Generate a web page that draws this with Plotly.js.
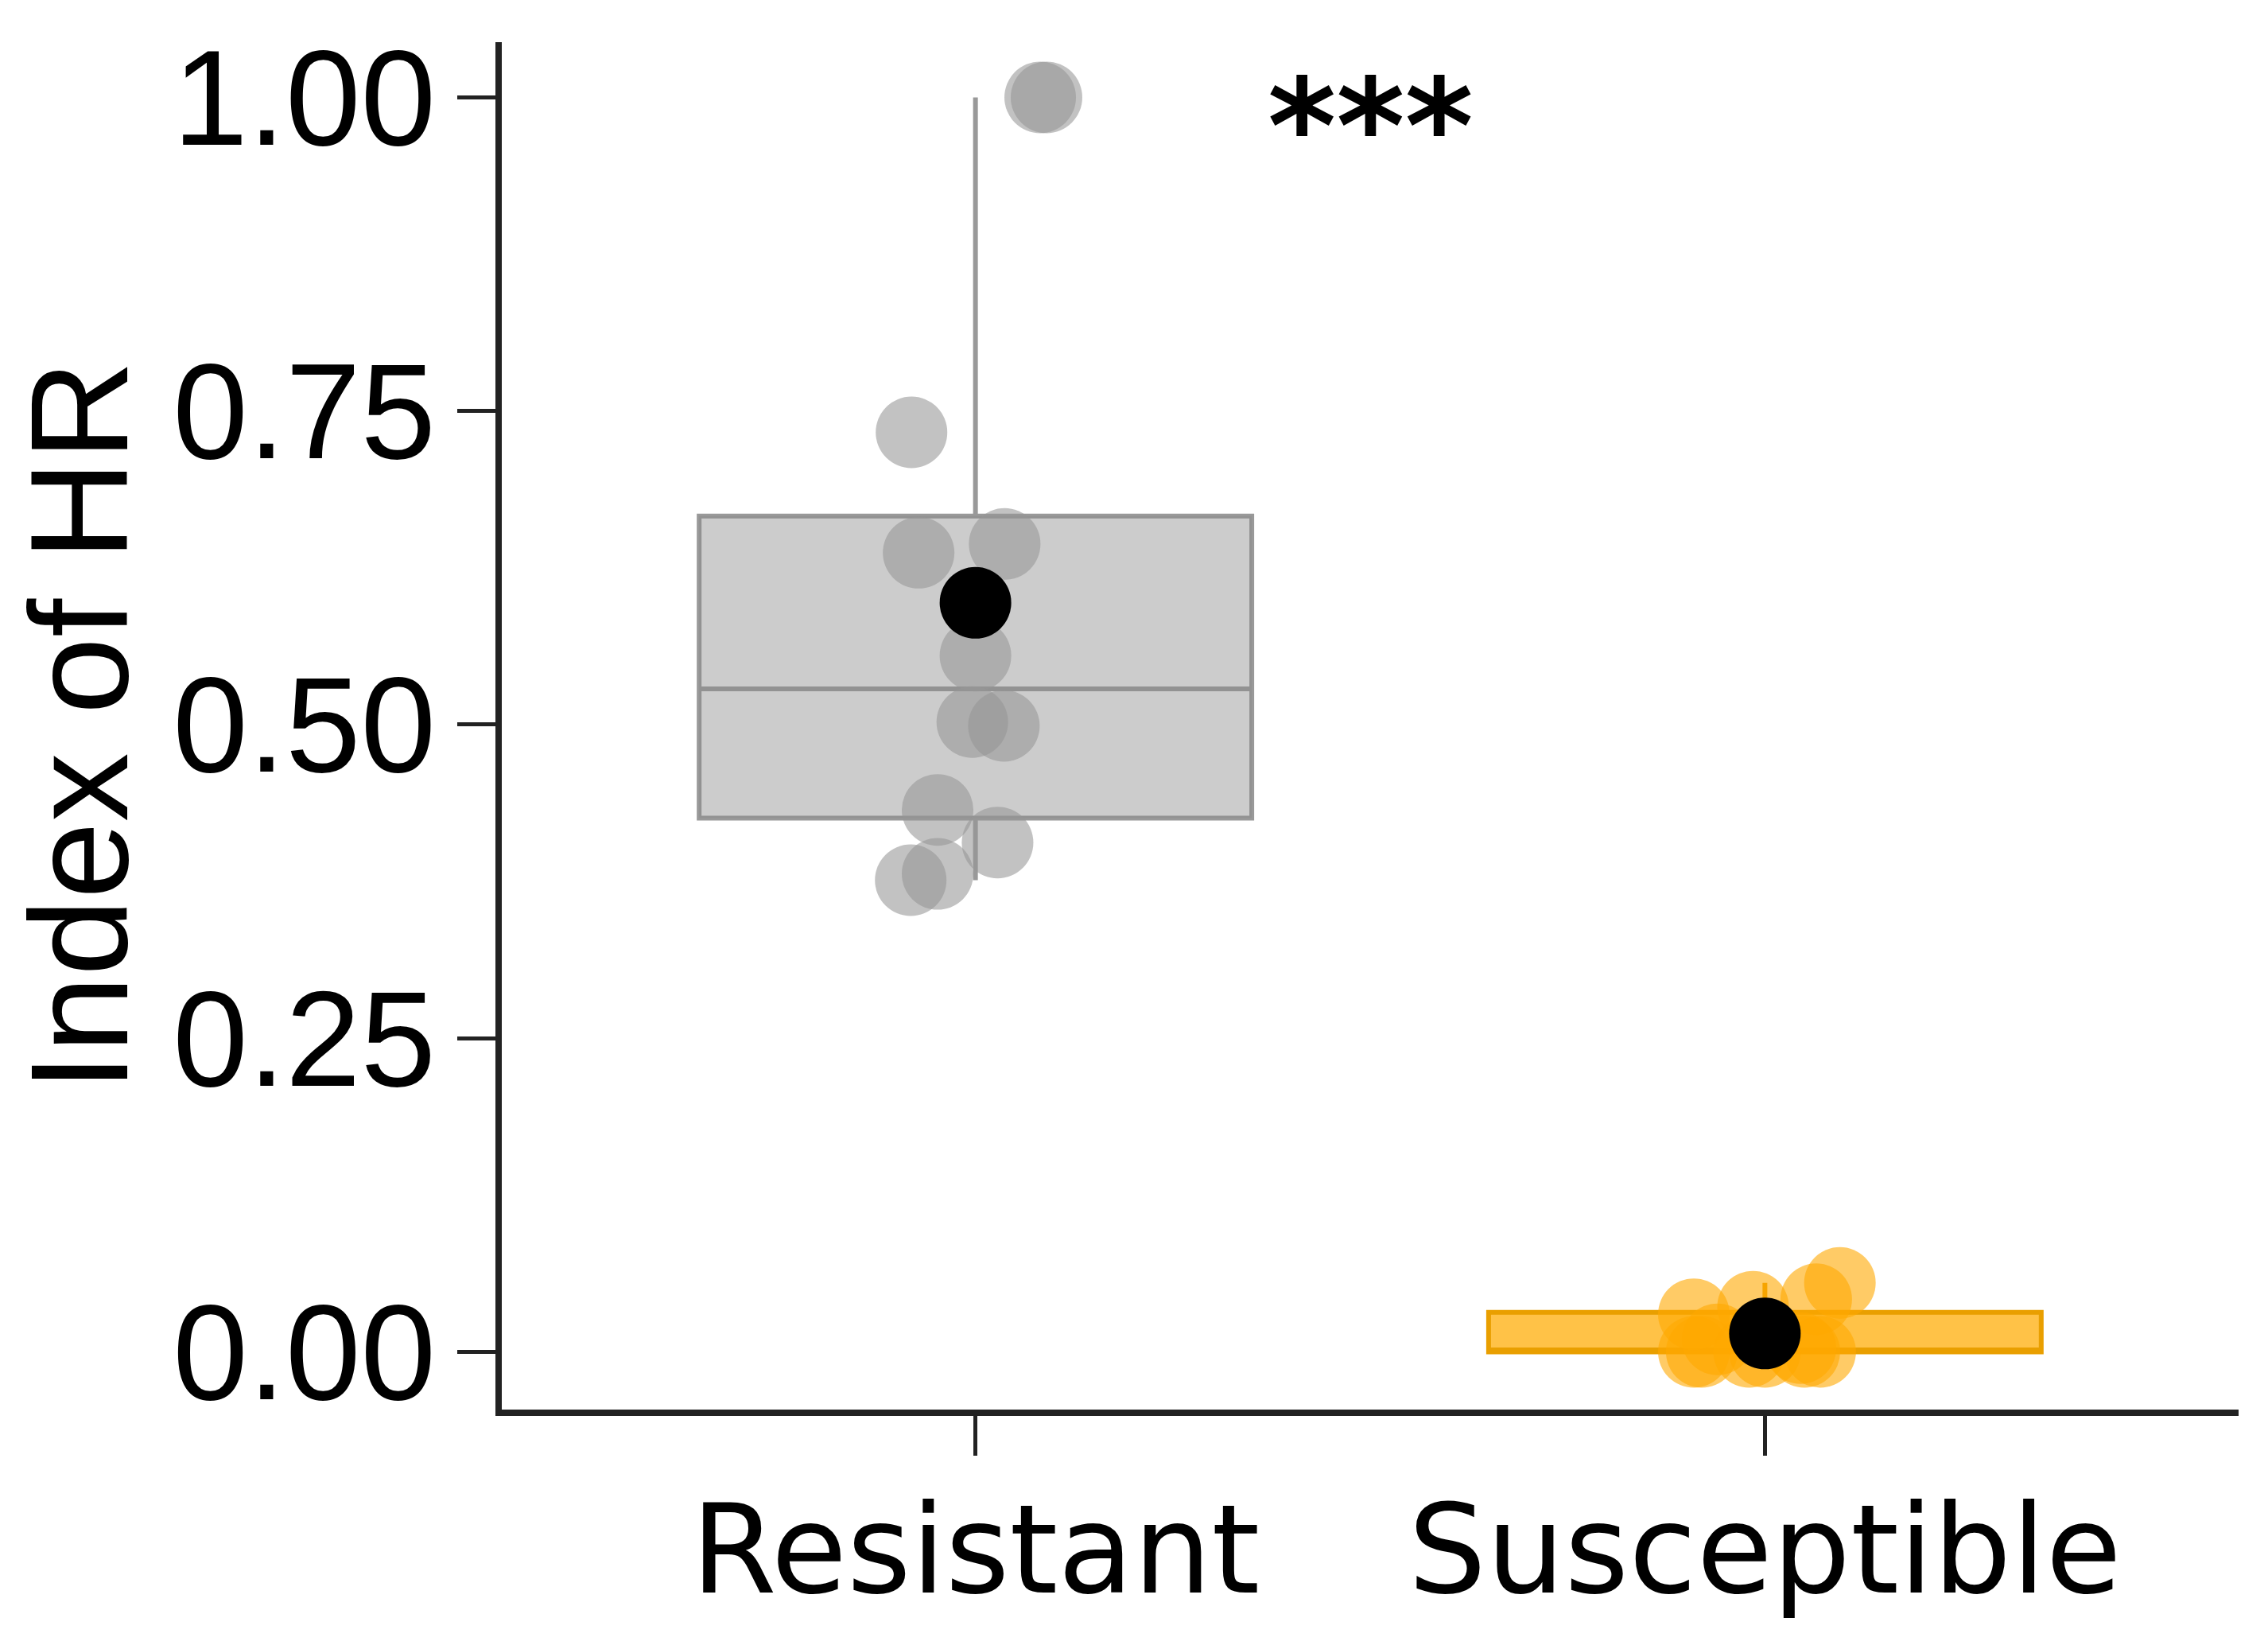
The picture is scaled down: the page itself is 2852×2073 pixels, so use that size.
<!DOCTYPE html>
<html><head><meta charset="utf-8">
<script src="https://cdn.plot.ly/plotly-3.0.1.min.js"></script>
<style>html,body{margin:0;padding:0;background:#fff}</style>
</head><body><div id="chart" style="width:2852px;height:2073px"></div>
<script>
// ---- data ----
const groups = ['Resistant', 'Susceptible'];
const groupPos = [1, 2];
const resistantValues = [1.0, 1.0, 0.733, 0.637, 0.644, 0.555, 0.502, 0.499, 0.432, 0.406, 0.376, 0.381];
const resistantJitter = [0.082, 0.09, -0.081, -0.072, 0.037, 0.0, -0.004, 0.036, -0.048, 0.028, -0.082, -0.048];
const susceptibleValues = [0, 0, 0, 0, 0, 0, 0.003, 0.01, 0.03, 0.036, 0.042, 0.055];
const susceptibleJitter = [-0.09, -0.08, 0.05, 0.07, -0.02, 0.0, 0.045, -0.06, -0.09, -0.015, 0.065, 0.095];
const yTicks = [0, 0.25, 0.5, 0.75, 1.0];
const yTickLabels = ['0.00', '0.25', '0.50', '0.75', '1.00'];
const significance = '***';
const yTitle = 'Index of HR';

// ---- styles ----
const colGrayPt = 'rgba(150,150,150,0.58)';
const colGrayFill = 'rgba(153,153,153,0.5)';
const colGrayLine = 'rgba(135,135,135,0.85)';
const colOrPt = 'rgba(255,168,0,0.6)';
const colOrFill = 'rgba(255,170,0,0.72)';
const colOrLine = '#E99F00';
const FONT_LBL = 'DejaVu Sans, Verdana, sans-serif';
const FONT_NUM = 'Liberation Sans, Arial, Helvetica, sans-serif';
const AXIS_COL = '#222222';

function quantile(arr, p) {
  const s = [...arr].sort((a, b) => a - b);
  const h = (s.length - 1) * p, lo = Math.floor(h);
  const hi = Math.min(lo + 1, s.length - 1);
  return s[lo] + (h - lo) * (s[hi] - s[lo]);
}
function boxStats(arr) {
  const q1 = quantile(arr, 0.25), med = quantile(arr, 0.5), q3 = quantile(arr, 0.75);
  const iqr = q3 - q1;
  const lo = Math.min(...arr.filter(v => v >= q1 - 1.5 * iqr));
  const hi = Math.max(...arr.filter(v => v <= q3 + 1.5 * iqr));
  return {q1, med, q3, lo, hi};
}
const mean = a => a.reduce((s, v) => s + v, 0) / a.length;

const series = [
  {vals: resistantValues, jit: resistantJitter, pt: colGrayPt, fill: colGrayFill, line: colGrayLine},
  {vals: susceptibleValues, jit: susceptibleJitter, pt: colOrPt, fill: colOrFill, line: colOrLine}
];

const traces = [];
series.forEach((s, i) => {
  const b = boxStats(s.vals);
  traces.push({
    type: 'box', x: [groupPos[i]], q1: [b.q1], median: [b.med], q3: [b.q3],
    lowerfence: [b.lo], upperfence: [b.hi], width: 0.7, whiskerwidth: 0,
    fillcolor: s.fill, line: {color: s.line, width: 6}, boxpoints: false,
    hoverinfo: 'skip', showlegend: false
  });
});
series.forEach((s, i) => {
  traces.push({
    type: 'scatter', mode: 'markers',
    x: s.vals.map((v, k) => groupPos[i] + s.jit[k]), y: s.vals,
    marker: {size: 90, color: s.pt, line: {width: 0}},
    hoverinfo: 'skip', showlegend: false
  });
});
traces.push({
  type: 'scatter', mode: 'markers', x: groupPos,
  y: series.map(s => mean(s.vals)),
  marker: {size: 90, color: '#000000', line: {width: 0}},
  hoverinfo: 'skip', showlegend: false
});

const layout = {
  width: 2852, height: 2073,
  margin: {l: 631, r: 37, t: 53, b: 301, pad: 0},
  paper_bgcolor: '#ffffff', plot_bgcolor: '#ffffff',
  font: {family: FONT_NUM, color: '#000000'},
  xaxis: {
    range: [0.4, 2.6], tickvals: groupPos, ticktext: groups,
    ticks: 'outside', ticklen: 50, tickwidth: 5, tickcolor: AXIS_COL,
    showline: true, linewidth: 8, linecolor: AXIS_COL,
    showgrid: false, zeroline: false, automargin: false,
    tickfont: {family: FONT_LBL, size: 155, color: '#000000'},
    ticklabelstandoff: -14
  },
  yaxis: {
    range: [-0.046, 1.044], tickvals: yTicks, ticktext: yTickLabels,
    ticks: 'outside', ticklen: 48, tickwidth: 5, tickcolor: AXIS_COL,
    showline: true, linewidth: 8, linecolor: AXIS_COL,
    showgrid: false, zeroline: false, automargin: false,
    tickfont: {family: FONT_NUM, size: 170, color: '#000000'},
    ticklabelstandoff: -7,
    title: {text: yTitle, font: {family: FONT_NUM, size: 174, color: '#000000'}, standoff: 0}
  },
  annotations: [{
    text: significance, x: (groupPos[0] + groupPos[1]) / 2, y: Math.max(...resistantValues),
    xref: 'x', yref: 'y', showarrow: false, xanchor: 'center', yanchor: 'middle', yshift: -38,
    font: {family: FONT_LBL, size: 165, color: '#000000', weight: 'bold'}
  }]
};

Plotly.newPlot('chart', traces, layout, {staticPlot: true, displayModeBar: false});
</script>
</body></html>
